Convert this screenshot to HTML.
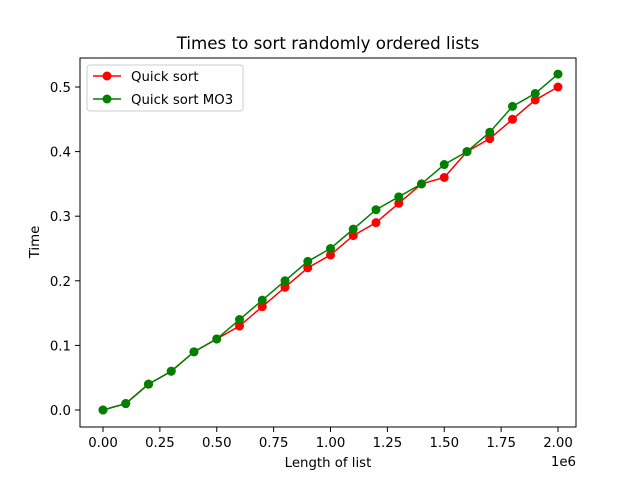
<!DOCTYPE html>
<html><head><meta charset="utf-8"><style>
body{margin:0;background:#fff}
text{font-family:"DejaVu Sans","Liberation Sans",sans-serif;fill:#000}
</style></head><body>
<svg id="chart" width="640" height="480" xmlns="http://www.w3.org/2000/svg">
<rect width="640" height="480" fill="#fff"/>
<text x="328" y="49" font-size="16.7" text-anchor="middle">Times to sort randomly ordered lists</text>
<g id="plot"></g>
<rect x="80" y="58" width="496" height="369" fill="none" stroke="#000" stroke-width="1"/>
<text x="328" y="467" font-size="13.3" text-anchor="middle">Length of list</text>
<text x="39" y="242" font-size="13.3" text-anchor="middle" transform="rotate(-90 39 242)">Time</text>
<text x="576" y="466" font-size="13.3" text-anchor="end">1e6</text>
<g>
<rect x="87" y="65" width="156" height="46" rx="3" fill="#fff" stroke="#ccc"/>
<line x1="93" y1="76" x2="121" y2="76" stroke="red" stroke-width="1.5"/><circle cx="107" cy="76" r="4.5" fill="red"/>
<text x="131" y="81" font-size="13.3">Quick sort</text>
<line x1="93" y1="99" x2="121" y2="99" stroke="green" stroke-width="1.5"/><circle cx="107" cy="99" r="4.5" fill="green"/>
<text x="131" y="104" font-size="13.3">Quick sort MO3</text>
</g>
</svg>
<script>
const xValues=[0,1e5,2e5,3e5,4e5,5e5,6e5,7e5,8e5,9e5,1e6,1.1e6,1.2e6,1.3e6,1.4e6,1.5e6,1.6e6,1.7e6,1.8e6,1.9e6,2e6];
const quickSort=[0,0.01,0.04,0.06,0.09,0.11,0.13,0.16,0.19,0.22,0.24,0.27,0.29,0.32,0.35,0.36,0.40,0.42,0.45,0.48,0.50];
const quickSortMO3=[0,0.01,0.04,0.06,0.09,0.11,0.14,0.17,0.20,0.23,0.25,0.28,0.31,0.33,0.35,0.38,0.40,0.43,0.47,0.49,0.52];
const xTicks=[0,0.25e6,0.5e6,0.75e6,1e6,1.25e6,1.5e6,1.75e6,2e6];
const xTickLabels=["0.00","0.25","0.50","0.75","1.00","1.25","1.50","1.75","2.00"];
const yTicks=[0,0.1,0.2,0.3,0.4,0.5];
const yTickLabels=["0.0","0.1","0.2","0.3","0.4","0.5"];
const NS="http://www.w3.org/2000/svg";
const sx=v=>103+v/2e6*455;
const sy=v=>410-v/0.5*323;
const g=document.getElementById('plot');
function mk(t,a){const e=document.createElementNS(NS,t);for(const k in a)e.setAttribute(k,a[k]);g.appendChild(e);return e;}
xTicks.forEach((v,i)=>{
 const l=mk('line',{x1:sx(v),x2:sx(v),y1:427,y2:432,stroke:'#000'});
 
 
 const t=mk('text',{x:sx(v),y:447,'font-size':13.3,'text-anchor':'middle'});t.textContent=xTickLabels[i];
 
 
});
yTicks.forEach((v,i)=>{
 const l=mk('line',{x1:75,x2:80,y1:sy(v),y2:sy(v),stroke:'#000'});
 
 
 const t=mk('text',{x:71,y:sy(v)+5,'font-size':13.3,'text-anchor':'end'});t.textContent=yTickLabels[i];
 
 
});
function series(vals,color,name){
 const p=mk('polyline',{points:vals.map((v,i)=>sx(xValues[i])+','+sy(v)).join(' '),fill:'none',stroke:color,'stroke-width':1.5});
 
 
 vals.forEach((v,i)=>{
  const c=mk('circle',{cx:sx(xValues[i]),cy:sy(v),r:4.5,fill:color});
  
  
 });
}
series(quickSort,'red','quick-sort');
series(quickSortMO3,'green','quick-sort-mo3');
</script>
</body></html>
